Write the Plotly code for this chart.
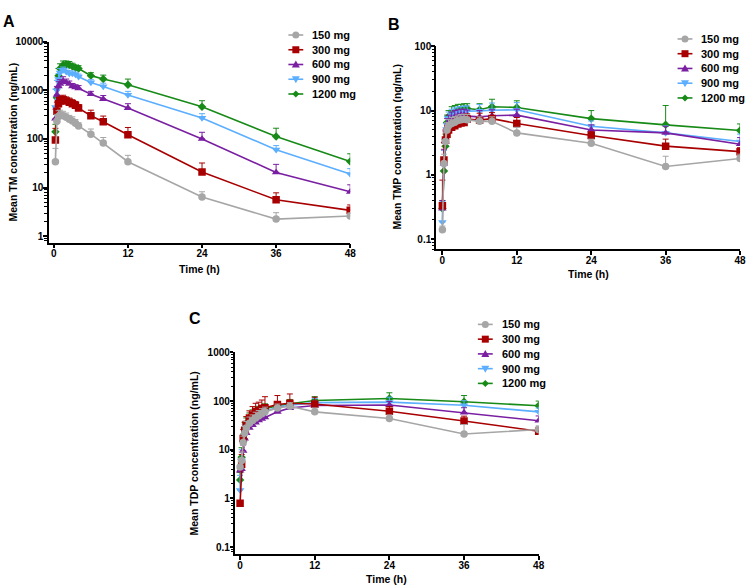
import plotly.graph_objects as go

# ---------------- data ----------------
doses = ["150 mg", "300 mg", "600 mg", "900 mg", "1200 mg"]
colors = ["#A6A6A6", "#A80000", "#7A1FA2", "#5CAEFF", "#178A17"]
symbols = ["circle", "square", "triangle-up", "triangle-down", "diamond"]

time_tm = [0.25, 0.5, 0.75, 1, 1.5, 2, 2.5, 3, 3.5, 4, 6, 8, 12, 24, 36, 48]
time_tp = [0, 0.25, 0.5, 0.75, 1, 1.5, 2, 2.5, 3, 3.5, 4, 6, 8, 12, 24, 36, 48]

x_ticks = [0, 12, 24, 36, 48]
tm_ticks = [1, 10, 100, 1000, 10000]
tmp_ticks = [0.1, 1, 10, 100]
tdp_ticks = [0.1, 1, 10, 100, 1000]

# Panel A: TM (mean, upper SD)
tm_mean_150 = [34, 230, 290, 310, 300, 280, 255, 235, 210, 185, 125, 82, 34, 6.4, 2.25, 2.6]
tm_sd_150 = [30, 90, 90, 80, 70, 60, 50, 50, 40, 30, 35, 25, 12, 1.8, 0.8, 0.4]
tm_mean_300 = [95, 370, 530, 600, 640, 600, 570, 530, 490, 430, 300, 225, 122, 21, 5.6, 3.4]
tm_sd_300 = [70, 200, 180, 160, 150, 130, 120, 110, 100, 80, 90, 70, 50, 11, 2.2, 1.0]
tm_mean_600 = [260, 800, 1200, 1350, 1550, 1450, 1350, 1200, 1150, 1100, 830, 660, 430, 100, 20.5, 8.2]
tm_sd_600 = [150, 400, 300, 300, 350, 250, 200, 180, 150, 150, 120, 120, 100, 37, 9.5, 3.2]
tm_mean_900 = [450, 1000, 1700, 2300, 2600, 2400, 2200, 2200, 2100, 1900, 1450, 1200, 800, 270, 60, 19]
tm_sd_900 = [600, 600, 500, 500, 400, 350, 300, 300, 250, 250, 200, 200, 150, 60, 13, 5.5]
tm_mean_1200 = [140, 700, 2000, 2800, 3300, 3400, 3300, 3100, 2900, 2800, 2000, 1700, 1300, 460, 112, 34.5]
tm_sd_1200 = [60, 400, 800, 700, 700, 600, 600, 500, 400, 400, 300, 350, 400, 150, 54, 15]

# Panel B: TMP
tmp_mean_150 = [0.14, 1.5, 3.3, 5.0, 5.8, 6.3, 6.6, 7.0, 7.2, 7.3, 7.2, 6.8, 6.8, 4.5, 3.1, 1.35, 1.8]
tmp_sd_150 = [0.02, 0.6, 1.2, 1.5, 1.5, 1.5, 1.5, 1.5, 1.5, 1.5, 1.5, 1.2, 1.2, 1.0, 0.5, 0.6, 0.3]
tmp_mean_300 = [0.33, 1.7, 3.5, 4.3, 5.0, 5.5, 5.8, 6.2, 6.4, 6.5, 7.4, 7.1, 7.5, 6.3, 4.1, 2.8, 2.3]
tmp_sd_300 = [0.5, 1.5, 1.5, 1.5, 1.5, 1.5, 1.5, 1.5, 1.5, 1.5, 1.5, 2.0, 1.8, 1.5, 0.6, 0.8, 0.35]
tmp_mean_600 = [0.3, 1.5, 3.3, 5.5, 6.5, 7.5, 8.0, 8.3, 8.5, 8.5, 8.2, 8.0, 8.3, 8.5, 5.0, 4.5, 3.0]
tmp_sd_600 = [0.1, 1.0, 1.5, 2.0, 2.0, 2.0, 2.0, 2.0, 2.0, 2.0, 2.0, 2.0, 2.0, 2.0, 1.0, 1.2, 0.8]
tmp_mean_900 = [0.185, 1.4, 3.4, 6.0, 7.5, 8.5, 9.0, 9.4, 9.6, 9.8, 9.8, 9.9, 10.1, 10.3, 5.7, 4.5, 3.3]
tmp_sd_900 = [0.2, 1.0, 2.0, 2.0, 2.0, 2.0, 2.0, 2.0, 2.0, 2.0, 2.0, 2.5, 3.0, 3.0, 1.2, 1.3, 1.0]
tmp_mean_1200 = [0.3, 1.15, 2.8, 6.5, 8.0, 9.0, 9.5, 10.0, 10.5, 10.8, 10.8, 10.3, 11.5, 11.2, 7.5, 6.0, 4.9]
tmp_sd_1200 = [0.1, 0.5, 1.5, 2.0, 2.0, 2.5, 2.5, 2.5, 2.0, 2.0, 2.0, 2.5, 3.5, 3.0, 2.5, 6.0, 1.3]

# Panel C: TDP
tdp_mean_150 = [4.4, 6, 14, 22, 28, 35, 40, 45, 50, 55, 60, 72, 78, 60, 44, 21, 26]
tdp_sd_150 = [2, 3, 5, 8, 10, 12, 12, 14, 14, 15, 15, 15, 15, 12, 8, 12, 5]
tdp_mean_300 = [0.79, 5.0, 17, 25, 33, 45, 52, 60, 65, 70, 73, 85, 90, 87, 62, 39, 24]
tdp_sd_300 = [0.1, 3, 9, 12, 15, 18, 25, 30, 30, 35, 50, 45, 50, 33, 15, 10, 5]
tdp_mean_600 = [3.7, 4.0, 9.5, 17, 22, 28, 32, 36, 40, 43, 46, 60, 72, 81, 83, 58, 39.5]
tdp_sd_600 = [1, 2, 3, 5, 6, 7, 8, 8, 8, 9, 10, 10, 12, 15, 15, 15, 10]
tdp_mean_900 = [1.47, 6, 14, 25, 30, 38, 44, 50, 55, 58, 62, 75, 82, 93, 95, 82, 60]
tdp_sd_900 = [1.5, 4, 6, 8, 8, 10, 10, 12, 12, 12, 12, 15, 15, 20, 25, 20, 12]
tdp_mean_1200 = [2.4, 7, 15, 28, 35, 45, 52, 57, 62, 66, 70, 80, 88, 103, 113, 97, 80]
tdp_sd_1200 = [1, 4, 6, 8, 10, 12, 14, 15, 16, 16, 18, 18, 20, 20, 35, 33, 20]

tm_means = [tm_mean_150, tm_mean_300, tm_mean_600, tm_mean_900, tm_mean_1200]
tm_sds = [tm_sd_150, tm_sd_300, tm_sd_600, tm_sd_900, tm_sd_1200]
tmp_means = [tmp_mean_150, tmp_mean_300, tmp_mean_600, tmp_mean_900, tmp_mean_1200]
tmp_sds = [tmp_sd_150, tmp_sd_300, tmp_sd_600, tmp_sd_900, tmp_sd_1200]
tdp_means = [tdp_mean_150, tdp_mean_300, tdp_mean_600, tdp_mean_900, tdp_mean_1200]
tdp_sds = [tdp_sd_150, tdp_sd_300, tdp_sd_600, tdp_sd_900, tdp_sd_1200]

# ---------------- layout helpers ----------------
W, H = 753, 587
FONT = "Liberation Sans, Arial, sans-serif"


def px(x):
    return x / W


def py(y):
    return 1 - y / H


fig = go.Figure()

panels = [
    (time_tm, tm_means, tm_sds, "x", "y"),
    (time_tp, tmp_means, tmp_sds, "x2", "y2"),
    (time_tp, tdp_means, tdp_sds, "x3", "y3"),
]

msizes = [7.5, 7.5, 7.5, 7.5, 6.5]
for times, means, sds, xa, ya in panels:
    for i in reversed(range(len(doses))):
        fig.add_trace(go.Scatter(
            x=times, y=means[i], xaxis=xa, yaxis=ya,
            mode="lines+markers", name=doses[i], showlegend=False,
            line=dict(color=colors[i], width=1.6),
            marker=dict(symbol=symbols[i], size=msizes[i], color=colors[i]),
            error_y=dict(type="data", array=sds[i], arrayminus=[0] * len(sds[i]),
                         symmetric=False, color=colors[i], thickness=1, width=3),
        ))

axis_common = dict(
    showline=True, linecolor="black", linewidth=1.5, ticks="outside",
    tickwidth=1.5, tickcolor="black", showgrid=False, zeroline=False,
    tickfont=dict(family=FONT, size=10, color="black", weight="bold"),
)
x_common = dict(ticklen=3.5, ticklabelstandoff=-3, **axis_common)
y_common = dict(ticklen=3.5, ticklabelstandoff=-2, type="log", **axis_common)

ymin_common = dict(ticks="outside", ticklen=2.5, tickwidth=1, tickcolor="black",
                   dtick="D1", showgrid=False)


def ytick_text(vals):
    return [("%g" % v) for v in vals]


fig.update_layout(
    xaxis=dict(domain=[px(49), px(353)], anchor="y", range=[-0.85, 48],
               tickvals=x_ticks, ticktext=[str(v) for v in x_ticks], **x_common),
    yaxis=dict(domain=[py(239), py(36)], anchor="x", range=[-0.13, 4.0],
               tickvals=tm_ticks, ticktext=ytick_text(tm_ticks), minor=ymin_common,
               **y_common),
    xaxis2=dict(domain=[px(440), px(746)], anchor="y2", range=[-0.95, 48],
                tickvals=x_ticks, ticktext=[str(v) for v in x_ticks], **x_common),
    yaxis2=dict(domain=[py(246), py(40.7)], anchor="x2", range=[-1.16, 2.0],
                tickvals=tmp_ticks, ticktext=ytick_text(tmp_ticks), minor=ymin_common,
                **y_common),
    xaxis3=dict(domain=[px(237), px(543)], anchor="y3", range=[-0.8, 48],
                tickvals=x_ticks, ticktext=[str(v) for v in x_ticks], **x_common),
    yaxis3=dict(domain=[py(554), py(350)], anchor="x3", range=[-1.15, 3.0],
                tickvals=tdp_ticks, ticktext=ytick_text(tdp_ticks), minor=ymin_common,
                **y_common),
)

annotations = []
shapes = []

for letter, (lx, ly) in zip(["A", "B", "C"], [(9.5, 15.5), (397.5, 19), (196.7, 316)]):
    annotations.append(dict(text=letter, x=px(lx), y=py(ly), xref="paper", yref="paper",
                            showarrow=False, xanchor="center", yanchor="middle",
                            font=dict(family=FONT, size=16, color="black", weight="bold")))

ytitles = ["Mean TM concentration (ng/mL)", "Mean TMP concentration (ng/mL)",
           "Mean TDP concentration (ng/mL)"]
ypos = [(13, 137), (400.7, 142.5), (196, 451.7)]
for t, (lx, ly) in zip(ytitles, ypos):
    annotations.append(dict(text=t, x=px(lx), y=py(ly), xref="paper", yref="paper",
                            showarrow=False, textangle=-90, xanchor="center", yanchor="middle",
                            font=dict(family=FONT, size=10.5, color="black", weight="bold")))
xpos = [(201, 266), (593, 271), (390, 579)]
for (lx, ly) in xpos:
    annotations.append(dict(text="Time (h)", x=px(lx), y=py(ly), xref="paper", yref="paper",
                            showarrow=False, xanchor="center", yanchor="middle",
                            font=dict(family=FONT, size=10.5, color="black", weight="bold")))

legend_origins = [(290.7, 29.3), (683, 33.3), (481.7, 321.7)]
row_gap = 14.9
tri_up = "M -4 -3 L 4 -3 L 0 4 Z"
tri_dn = "M -4 3 L 4 3 L 0 -4 Z"
diam = "M 0 3.5 L 3.5 0 L 0 -3.5 L -3.5 0 Z"
for lx, ly0 in legend_origins:
    for i, d in enumerate(doses):
        yy = ly0 + row_gap * i
        shapes.append(dict(type="line", xref="paper", yref="paper",
                           x0=px(lx), x1=px(lx + 15), y0=py(yy), y1=py(yy),
                           line=dict(color=colors[i], width=1.6)))
        base = dict(xref="paper", yref="paper", xsizemode="pixel", ysizemode="pixel",
                    xanchor=px(lx + 7.5), yanchor=py(yy), fillcolor=colors[i],
                    line=dict(width=0))
        if symbols[i] == "circle":
            shapes.append(dict(type="circle", x0=-3.5, x1=3.5, y0=-3.5, y1=3.5, **base))
        elif symbols[i] == "square":
            shapes.append(dict(type="rect", x0=-3.5, x1=3.5, y0=-3.5, y1=3.5, **base))
        elif symbols[i] == "triangle-up":
            shapes.append(dict(type="path", path=tri_up, **base))
        elif symbols[i] == "triangle-down":
            shapes.append(dict(type="path", path=tri_dn, **base))
        else:
            shapes.append(dict(type="path", path=diam, **base))
        annotations.append(dict(text=d, x=px(lx + 22), y=py(yy), xref="paper", yref="paper",
                                showarrow=False, xanchor="left", yanchor="middle",
                                font=dict(family=FONT, size=11, color="black", weight="bold")))

fig.update_layout(
    width=W, height=H, autosize=False,
    margin=dict(l=0, r=0, t=0, b=0),
    paper_bgcolor="white", plot_bgcolor="white",
    showlegend=False, hovermode=False,
    annotations=annotations, shapes=shapes,
    font=dict(family=FONT, color="black"),
)

fig.write_html("out.html", config={"displayModeBar": False},
               post_script="document.body.style.margin='0px';document.body.style.overflow='hidden';")
